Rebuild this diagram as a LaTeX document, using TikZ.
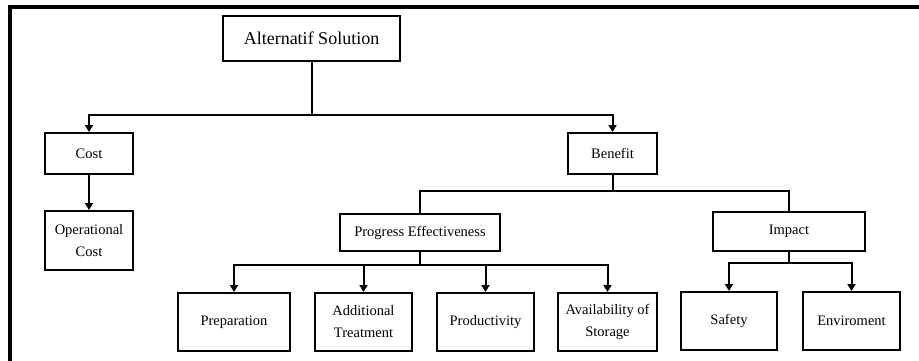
\documentclass[tikz,border=0pt]{standalone}
\usepackage{fontspec}
\setmainfont{Liberation Serif}
\usetikzlibrary{arrows.meta,positioning,shadows}
\tikzset{
  hbbox/.style={
    rectangle, draw=black, fill=white, line width=2pt,
    align=center, inner sep=1pt, font=\fontsize{14.5}{22}\selectfont,
    drop shadow={shadow xshift=1pt,shadow yshift=-1pt,fill=black!35,opacity=.6}
  },
  hbtop/.style={hbbox,font=\fontsize{18}{21}\selectfont},
  hbline/.style={line width=2pt},
  hbarrow/.style={hbline,-{Triangle[width=8pt,length=7pt]}},
  hbframe/.style={line width=4pt}
}
\begin{document}
\begin{tikzpicture}[x=1pt,y=-1pt]
  \useasboundingbox (0,0) rectangle (919,360);
  % frame
  \coordinate (fa) at (10,7);
  \coordinate (fb) at (925,7);
  \coordinate (fc) at (10,366);
  \draw[hbframe] (fb) -- (fa) -- (fc);
  % boxes
  \node[hbtop,minimum width=177pt,minimum height=45pt] (sol) at (311.5,38.5) {Alternatif Solution};
  \node[hbbox,minimum width=88pt,minimum height=41pt] (cost) at (89,153.5) {Cost};
  \node[hbbox,minimum width=89pt,minimum height=41pt] (benefit) at (612.5,153.5) {Benefit};
  \node[hbbox,minimum width=88pt,minimum height=59pt] (opcost) at (89,240.5) {Operational\\Cost};
  \node[hbbox,minimum width=160pt,minimum height=37pt] (progeff) at (420,232.5) {Progress Effectiveness};
  \node[hbbox,minimum width=152pt,minimum height=39pt] (impact) at (789,231.5) {Impact};
  \node[hbbox,minimum width=112pt,minimum height=58pt] (prep) at (234,322) {Preparation};
  \node[hbbox,minimum width=97pt,minimum height=58pt] (addtr) at (363.5,322) {Additional\\Treatment};
  \node[hbbox,minimum width=97pt,minimum height=58pt] (prod) at (485.5,322) {Productivity};
  \node[hbbox,minimum width=99pt,minimum height=58pt] (avail) at (607.5,322) {Availability of\\Storage};
  \node[hbbox,minimum width=96pt,minimum height=58pt] (safety) at (729,321) {Safety};
  \node[hbbox,minimum width=97pt,minimum height=58pt] (env) at (851.5,321) {Enviroment};
  % bus levels
  \coordinate (bus1) at (0,115);
  \coordinate (bus2) at (0,191);
  \coordinate (bus3) at (0,265);
  \coordinate (bus4) at (0,263);
  % connectors
  \draw[hbline] (sol.south) -- (sol.south |- bus1);
  \draw[hbarrow] (sol.south |- bus1) -| (cost.north);
  \draw[hbarrow] (sol.south |- bus1) -| (benefit.north);
  \draw[hbarrow] (cost.south) -- (opcost.north);
  \draw[hbline] (benefit.south) -- (benefit.south |- bus2);
  \draw[hbline] (benefit.south |- bus2) -| (progeff.north);
  \draw[hbline] (benefit.south |- bus2) -| (impact.north);
  \draw[hbline] (progeff.south) -- (progeff.south |- bus3);
  \foreach \kid in {prep,addtr,prod,avail}
    \draw[hbarrow] (progeff.south |- bus3) -| (\kid.north);
  \draw[hbline] (impact.south) -- (impact.south |- bus4);
  \foreach \kid in {safety,env}
    \draw[hbarrow] (impact.south |- bus4) -| (\kid.north);
\end{tikzpicture}
\end{document}
